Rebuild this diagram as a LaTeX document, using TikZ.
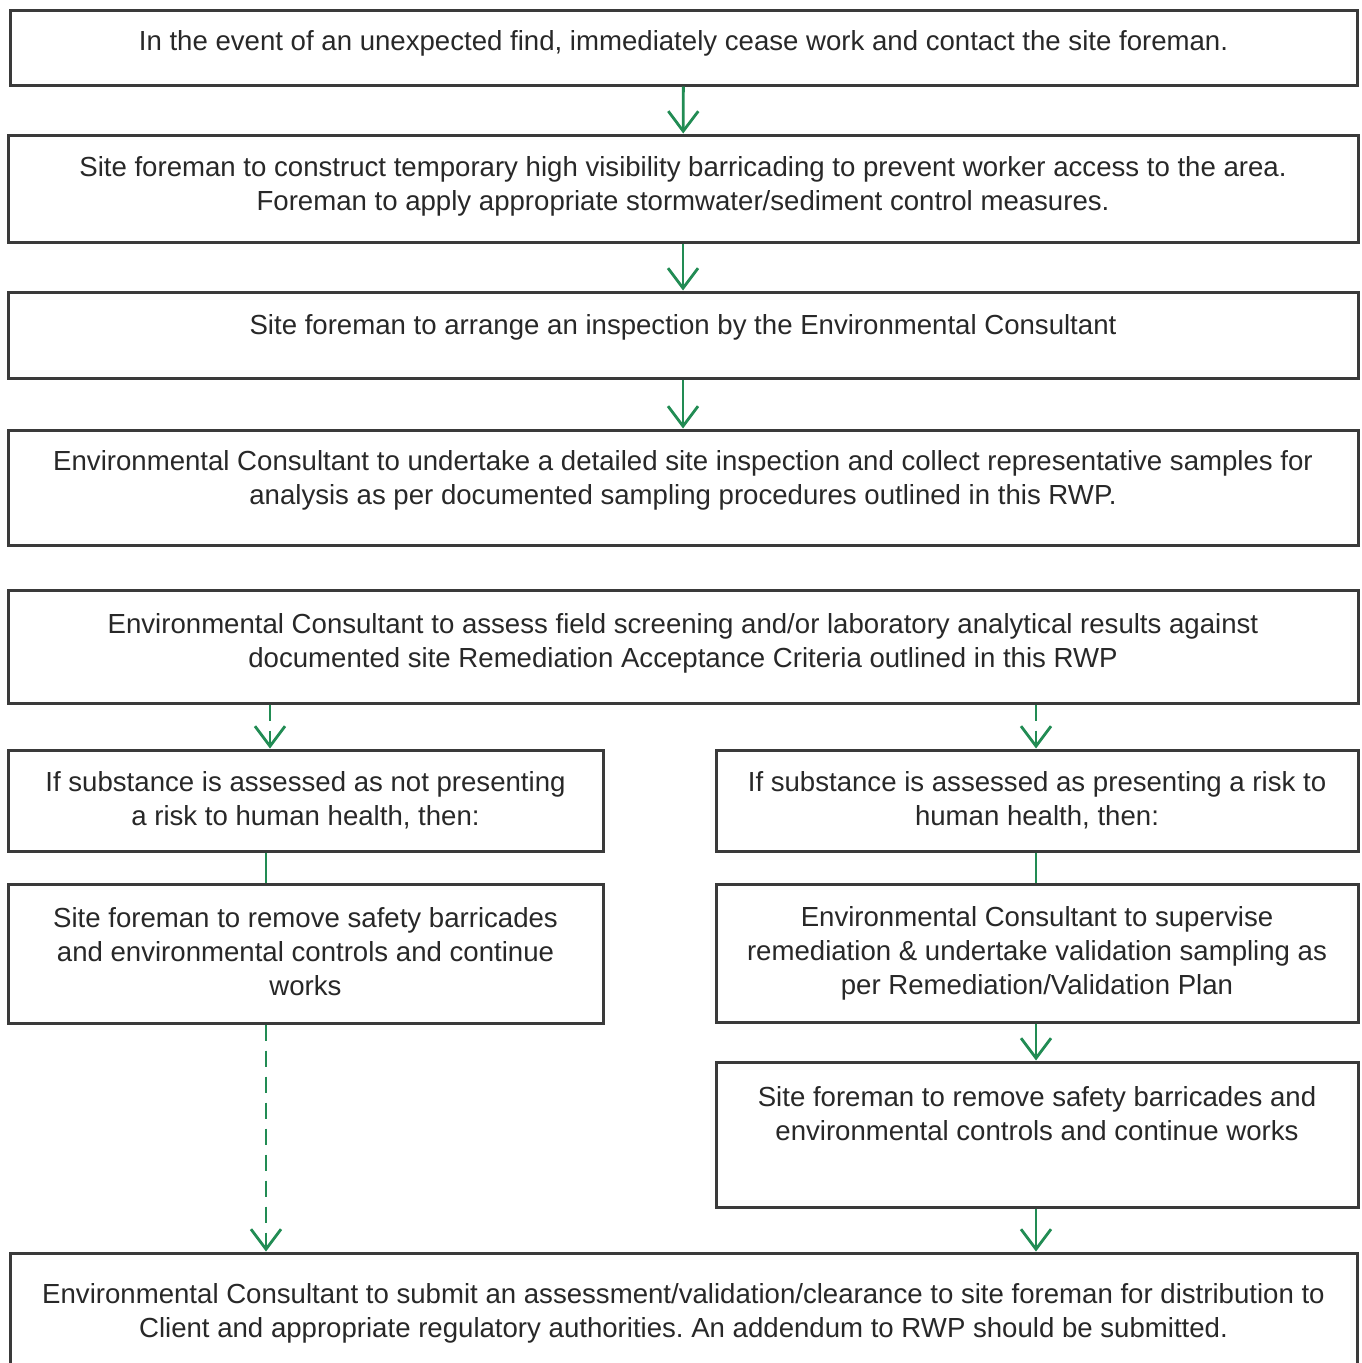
\documentclass[tikz,border=0pt]{standalone}
\usepackage{fontspec}
\setmainfont{Liberation Sans}
\usetikzlibrary{arrows.meta}
\frenchspacing

\definecolor{boxline}{RGB}{58,58,58}
\definecolor{boxtext}{RGB}{40,40,40}
\definecolor{arrowgreen}{RGB}{34,140,84}
% lowers the bottom of the last line, so the text sits higher in its box
\newcommand{\lift}[1]{\rule[-#1pt]{0pt}{#1pt}}

\begin{document}
\begin{tikzpicture}[x=1pt, y=-1pt, font=\fontsize{27.6}{34}\selectfont,
  flowbox/.style = {draw=boxline, line width=3pt, fill=white, align=center, inner sep=2pt, text=boxtext},
  arrow/.style = {-{Straight Barb[length=20pt, width=30pt]}, draw=arrowgreen, line width=2.8pt},
  dasharrow/.style = {arrow, dash pattern=on 16pt off 10pt},
  link/.style = {draw=arrowgreen, line width=2.8pt}
]
\useasboundingbox (0,0) rectangle (1362,1363);
\coordinate (lcol) at (266,0);
\coordinate (rcol) at (1036,0);
\node[flowbox, minimum width=1347pt, minimum height=75pt] (find) at (683.5,47.5) {In the event of an unexpected find, immediately cease work and contact the site foreman.\lift{15}};
\node[flowbox, minimum width=1350pt, minimum height=107pt] (barricade) at (683,188.5) {Site foreman to construct temporary high visibility barricading to prevent worker access to the area.\\ Foreman to apply appropriate stormwater/sediment control measures.\lift{11}};
\node[flowbox, minimum width=1350pt, minimum height=86pt] (arrange) at (683,335) {Site foreman to arrange an inspection by the Environmental Consultant\lift{22}};
\node[flowbox, minimum width=1350pt, minimum height=115pt] (inspect) at (683,487.5) {Environmental Consultant to undertake a detailed site inspection and collect representative samples for\\ analysis as per documented sampling procedures outlined in this RWP.\lift{20}};
\node[flowbox, minimum width=1350pt, minimum height=113pt] (assess) at (683,646.5) {Environmental Consultant to assess field screening and/or laboratory analytical results against\\ documented site Remediation Acceptance Criteria outlined in this RWP\lift{13}};
\node[flowbox, minimum width=595pt, minimum height=101pt] (norisk) at (305.5,800.5) {If substance is assessed as not presenting\\ a risk to human health, then:};
\node[flowbox, minimum width=595pt, minimum height=139pt] (continue) at (305.5,953.5) {Site foreman to remove safety barricades\\ and environmental controls and continue\\ works\lift{4}};
\node[flowbox, minimum width=642pt, minimum height=101pt] (risk) at (1037,800.5) {If substance is assessed as presenting a risk to\\ human health, then:};
\node[flowbox, minimum width=642pt, minimum height=138pt] (supervise) at (1037,953) {Environmental Consultant to supervise\\ remediation \& undertake validation sampling as\\ per Remediation/Validation Plan};
\node[flowbox, minimum width=642pt, minimum height=145pt] (remove) at (1037,1134.5) {Site foreman to remove safety barricades and\\ environmental controls and continue works\lift{43}};
\node[flowbox, minimum width=1347pt, minimum height=130pt] (submit) at (683.5,1318) {Environmental Consultant to submit an assessment/validation/clearance to site foreman for distribution to\\ Client and appropriate regulatory authorities. An addendum to RWP should be submitted.\lift{16}};

\draw[arrow] (find) -- (barricade);
\draw[arrow] (barricade) -- (arrange);
\draw[arrow] (arrange) -- (inspect);
\draw[dasharrow] (assess.south -| 270,0) -- (norisk.north -| 270,0);
\draw[dasharrow] (assess.south -| rcol) -- (risk.north -| rcol);
\draw[link] (norisk.south -| lcol) -- (continue.north -| lcol);
\draw[link] (risk.south -| rcol) -- (supervise.north -| rcol);
\draw[arrow] (supervise.south -| rcol) -- (remove.north -| rcol);
\draw[dasharrow] (continue.south -| lcol) -- (submit.north -| lcol);
\draw[arrow] (remove.south -| rcol) -- (submit.north -| rcol);
\end{tikzpicture}
\end{document}
